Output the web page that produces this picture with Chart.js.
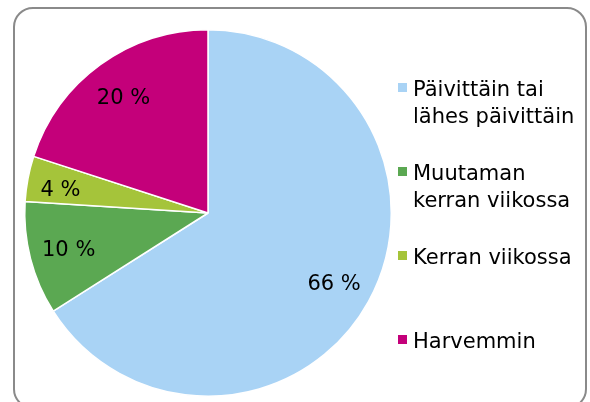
<!DOCTYPE html>
<html>
<head>
<meta charset="utf-8">
<script src="https://cdn.jsdelivr.net/npm/chart.js@4"></script>
<style>
  html, body { margin: 0; padding: 0; background: #fff; }
  #wrap { position: relative; width: 590px; height: 402px; overflow: hidden; }
  #frame {
    position: absolute; left: 13px; top: 7px; width: 574px; height: 402px;
    border: 2px solid #8a8a8a; border-radius: 20px; box-sizing: border-box;
  }
  canvas { position: absolute; left: 0; top: 0; }
</style>
</head>
<body>
<div id="wrap">
  <div id="frame"></div>
  <canvas id="c" width="590" height="402"></canvas>
</div>
<script>
const categories = [
  ['Päivittäin tai', 'lähes päivittäin'],
  ['Muutaman', 'kerran viikossa'],
  ['Kerran viikossa'],
  ['Harvemmin']
];
const values = [66, 10, 4, 20];
const colors = ['#a9d3f5', '#5ba852', '#a5c43a', '#c4007a'];

const FONT = '21px "DejaVu Sans", Verdana, sans-serif';

// legend rows: baseline of first line for each item
const legendTops = [96, 180, 264, 348];

const labelsPlugin = {
  id: 'labelsPlugin',
  afterDraw(chart) {
    const ctx = chart.ctx;
    const meta = chart.getDatasetMeta(0);
    ctx.save();
    ctx.font = FONT;
    ctx.fillStyle = '#000';
    ctx.textAlign = 'center';
    ctx.textBaseline = 'middle';
    meta.data.forEach((arc, i) => {
      const p = arc.getProps(['x', 'y', 'startAngle', 'endAngle', 'outerRadius'], true);
      const mid = (p.startAngle + p.endAngle) / 2;
      const small = values[i] < 5;
      const r = p.outerRadius * (small ? 0.82 : 0.785);
      const dy = small ? 6 : 2;
      ctx.fillText(values[i] + ' %', p.x + Math.cos(mid) * r, p.y + Math.sin(mid) * r + dy);
    });

    // legend
    ctx.textAlign = 'left';
    ctx.textBaseline = 'alphabetic';
    categories.forEach((lines, i) => {
      const y0 = legendTops[i];
      ctx.fillStyle = colors[i];
      ctx.fillRect(398, y0 - 13, 9, 9);
      ctx.fillStyle = '#000';
      lines.forEach((t, j) => ctx.fillText(t, 413, y0 + j * 27));
    });
    ctx.restore();
  }
};

new Chart(document.getElementById('c'), {
  type: 'pie',
  data: {
    labels: categories,
    datasets: [{
      data: values,
      backgroundColor: colors,
      borderColor: '#ffffff',
      borderWidth: 1.5
    }]
  },
  options: {
    responsive: false,
    animation: false,
    layout: { padding: { left: 24, right: 198, top: 29, bottom: 5 } },
    plugins: {
      legend: { display: false },
      tooltip: { enabled: false }
    }
  },
  plugins: [labelsPlugin]
});
</script>
</body>
</html>
